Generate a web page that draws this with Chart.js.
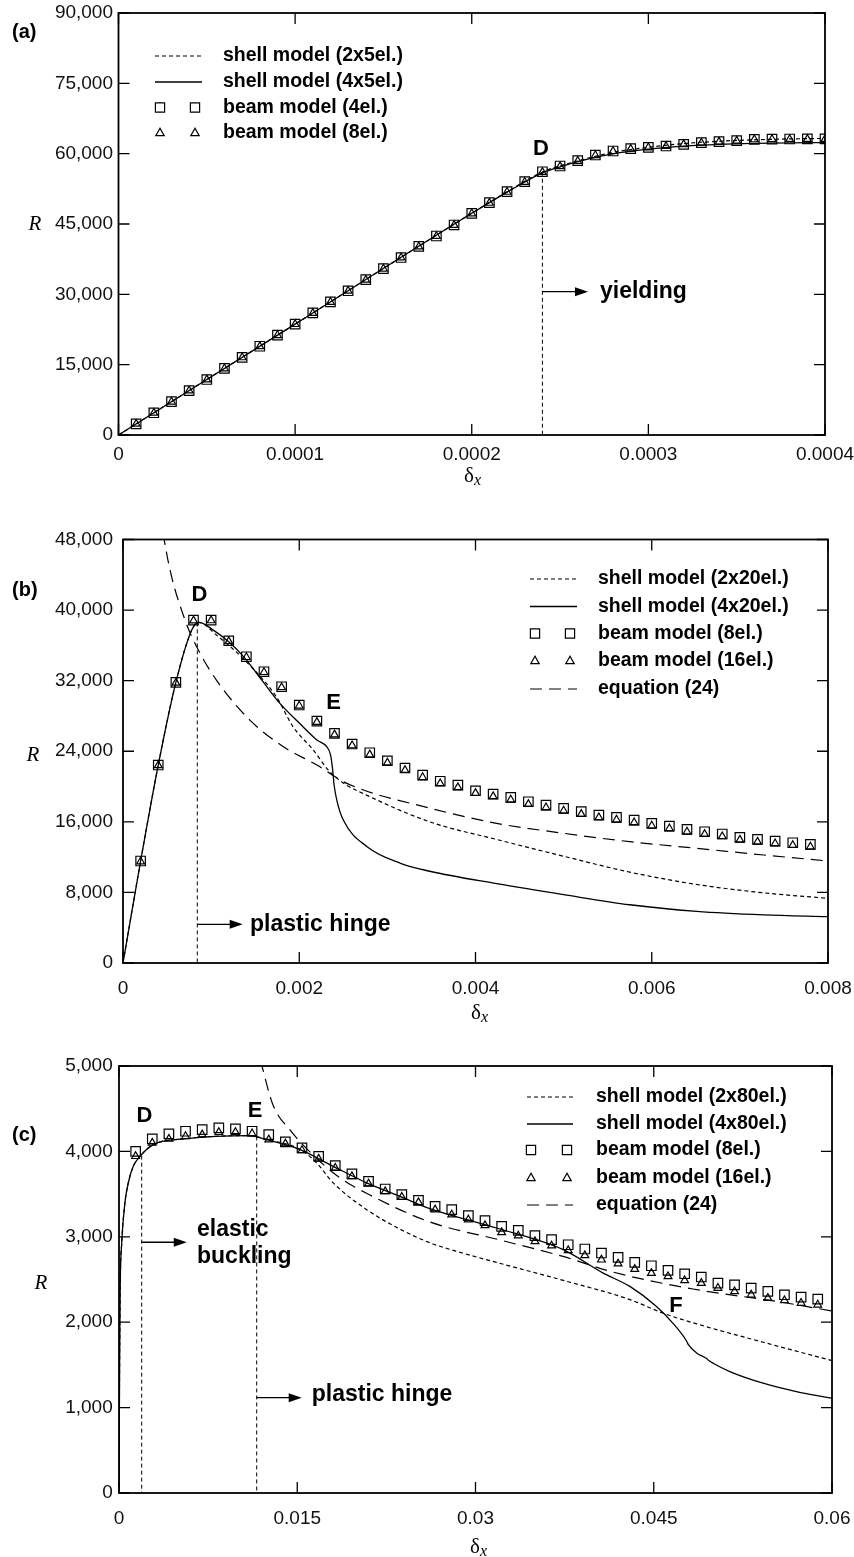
<!DOCTYPE html>
<html>
<head>
<meta charset="utf-8">
<script src="https://cdn.jsdelivr.net/npm/chart.js@4.4.1/dist/chart.umd.min.js"></script>
<style>
  html, body { margin: 0; padding: 0; background: #fff; }
  canvas { position: absolute; left: 0; }
</style>
</head>
<body>
<canvas id="chartA" width="854" height="500" style="top:0px"></canvas>
<canvas id="chartB" width="854" height="540" style="top:500px"></canvas>
<canvas id="chartC" width="854" height="517" style="top:1040px"></canvas>
<script>
// ---------- panel (a) data ----------
const xTicksA = [0, 0.0001, 0.0002, 0.0003, 0.0004];
const xLabelsA = ['0', '0.0001', '0.0002', '0.0003', '0.0004'];
const yTicksA = [0, 15000, 30000, 45000, 60000, 75000, 90000];

const deltaA_beam = [0.00001,0.00002,0.00003,0.00004,0.00005,0.00006,0.00007,0.00008,0.00009,0.0001,
  0.00011,0.00012,0.00013,0.00014,0.00015,0.00016,0.00017,0.00018,0.00019,0.0002,
  0.00021,0.00022,0.00023,0.00024,0.00025,0.00026,0.00027,0.00028,0.00029,0.0003,
  0.00031,0.00032,0.00033,0.00034,0.00035,0.00036,0.00037,0.00038,0.00039,0.0004];
const rA_beam4 = [2370,4740,7100,9470,11830,14200,16560,18930,21300,23660,
  26030,28390,30760,33120,35490,37850,40220,42440,44790,47280,
  49540,51890,54020,56150,57370,58500,59710,60570,61060,61350,
  61630,62000,62340,62550,62770,63060,63100,63130,63150,63150];
const rA_beam8 = [2360,4720,7080,9450,11800,14170,16530,18900,21260,23620,
  25990,28350,30720,33080,35450,37810,40180,42400,44750,47230,
  49480,51820,53950,56070,57300,58430,59650,60520,61010,61300,
  61590,61960,62300,62510,62730,63020,63060,63090,63110,63110];
const deltaA_s2 = [0,0.0001,0.0002,0.00022,0.00024,0.00026,0.00028,0.0003,0.00032,0.00034,0.00036,0.00038,0.0004];
const rA_s2 = [0,23650,47280,51850,56100,58450,60300,61350,62150,62650,62950,63150,63250];
const deltaA_s4 = [0,0.0001,0.0002,0.00022,0.00024,0.00025,0.00026,0.00028,0.0003,0.00032,0.00034,0.00036,0.00038,0.0004];
const rA_s4 = [0,23650,47280,51800,55900,57200,58300,59950,60950,61600,62000,62200,62300,62350];
const deltaA_yield = [0.00024, 0.00024];
const rA_yield = [56150, 0];

// ---------- panel (b) data ----------
const xTicksB = [0, 0.002, 0.004, 0.006, 0.008];
const xLabelsB = ['0', '0.002', '0.004', '0.006', '0.008'];
const yTicksB = [0, 8000, 16000, 24000, 32000, 40000, 48000];

const deltaB_beam = [0.0002,0.0004,0.0006,0.0008,0.001,0.0012,0.0014,0.0016,0.0018,0.002,
  0.0022,0.0024,0.0026,0.0028,0.003,0.0032,0.0034,0.0036,0.0038,0.004,
  0.0042,0.0044,0.0046,0.0048,0.005,0.0052,0.0054,0.0056,0.0058,0.006,
  0.0062,0.0064,0.0066,0.0068,0.007,0.0072,0.0074,0.0076,0.0078];
const rB_beam8 = [11560,22440,31810,38870,38870,36520,34710,33010,31310,29240,
  27420,26030,24820,23830,22920,22100,21300,20600,20170,19520,
  19150,18770,18280,17900,17530,17150,16770,16510,16200,15830,
  15520,15150,14880,14620,14240,14010,13820,13630,13450];
const rB_beam16 = [11500,22400,31750,38800,38820,36450,34650,32950,31230,29150,
  27300,25880,24650,23620,22700,21850,21050,20350,19900,19250,
  18880,18500,18000,17620,17250,16870,16490,16230,15920,15550,
  15240,14870,14600,14340,13960,13730,13540,13350,13170];
const deltaB_s2 = [0,0.0002,0.0004,0.0006,0.00078,0.00086,0.00106,0.0014,0.00174,0.00193,0.00216,0.00233,0.0025,0.00277,0.00348,0.00424,0.005,0.00575,0.00651,0.00727,0.008];
const rB_s2 = [0,11560,22440,31810,37740,38610,37170,34140,30170,26770,24130,21870,20400,19000,16000,14000,12100,10300,8900,7950,7330];
const deltaB_s4 = [0,0.0002,0.0004,0.0006,0.00078,0.00086,0.001025,0.0012,0.001385,0.00158,0.00178,0.002,0.0022,0.002311,0.002355,0.002378,0.002395,0.00243,0.0025,0.00277,0.00315,0.00348,0.00424,0.005,0.00575,0.00651,0.00727,0.008];
const rB_s4 = [0,11560,22440,31810,37740,38610,37730,36400,34530,32000,29430,27200,25280,24520,23600,22000,20200,18300,16200,13180,11300,10400,9000,7750,6600,5850,5450,5250];
const deltaB_eq = [0.00038,0.000534,0.000704,0.000836,0.00106,0.00144,0.00182,0.0022,0.00254,0.00348,0.00424,0.005,0.00575,0.00651,0.00727,0.008];
const rB_eq = [53000,44530,38870,35840,32070,27530,24510,22440,20360,17560,15830,14700,13750,13000,12240,11560];
const deltaB_hinge = [0.000843, 0.000843];
const rB_hinge = [38600, 0];

// ---------- panel (c) data ----------
const xTicksC = [0, 0.015, 0.03, 0.045, 0.06];
const xLabelsC = ['0', '0.015', '0.03', '0.045', '0.06'];
const yTicksC = [0, 1000, 2000, 3000, 4000, 5000];

const deltaC_beam = [0.0014,0.0028,0.0042,0.0056,0.007,0.0084,0.0098,0.0112,0.0126,0.014,
  0.0154,0.0168,0.0182,0.0196,0.021,0.0224,0.0238,0.0252,0.0266,0.028,
  0.0294,0.0308,0.0322,0.0336,0.035,0.0364,0.0378,0.0392,0.0406,0.042,
  0.0434,0.0448,0.0462,0.0476,0.049,0.0504,0.0518,0.0532,0.0546,0.056,
  0.0574,0.0588];
const rC_beam8 = [4001,4146,4205,4236,4256,4275,4264,4236,4197,4111,
  4041,3943,3834,3736,3650,3560,3494,3427,3357,3318,
  3247,3189,3122,3075,3013,2966,2907,2857,2810,2759,
  2700,2661,2606,2567,2529,2458,2438,2400,2360,2321,
  2294,2271];
const rC_beam16 = [3943,4100,4146,4177,4197,4224,4224,4209,4138,4091,
  4013,3912,3806,3708,3622,3532,3466,3403,3318,3259,
  3200,3134,3052,3013,2946,2896,2841,2782,2731,2685,
  2622,2575,2536,2489,2458,2400,2360,2321,2282,2254,
  2224,2204];
const deltaC_s2 = [0,0.00005,0.0001,0.00023,0.0005,0.00078,0.0012,0.00177,0.00289,0.0054,0.0082,0.011,0.0124,0.01523,0.01663,0.01803,0.02084,0.02364,0.02616,0.0289,0.03177,0.03738,0.04299,0.0458,0.04862,0.05422,0.06];
const rC_s2 = [0,1500,2400,2930,3400,3630,3825,3943,4080,4146,4177,4185,4140,4025,3865,3631,3318,3090,2930,2810,2700,2490,2265,2105,1980,1765,1550];
const deltaC_s4 = [0,0.00005,0.0001,0.00023,0.0005,0.00078,0.0012,0.00177,0.00289,0.0054,0.0082,0.011,0.0124,0.01523,0.01803,0.02084,0.02364,0.02616,0.03177,0.03738,0.04074,0.04299,0.04523,0.0466,0.04776,0.0479,0.0486,0.04944,0.0496,0.05,0.0514,0.0542,0.057,0.06];
const rC_s4 = [0,1500,2400,2930,3400,3630,3825,3943,4080,4146,4177,4185,4138,4021,3825,3631,3474,3330,3103,2849,2575,2419,2184,1990,1780,1740,1640,1575,1555,1520,1422,1286,1188,1110];
const deltaC_eq = [0.0115,0.01203,0.01296,0.01439,0.01633,0.0186,0.02112,0.02617,0.03206,0.03736,0.04148,0.0483,0.05562,0.06];
const rC_eq = [5280,5000,4543,4251,3958,3689,3489,3173,2963,2770,2590,2389,2237,2131];
const deltaC_buckle = [0.00191, 0.00191];
const rC_buckle = [3950, 0];
const deltaC_hinge = [0.011588, 0.011588];
const rC_hinge = [4175, 0];

// ---------- helpers ----------
const SANS = '"Liberation Sans", Arial, Helvetica, sans-serif';
const SERIF = '"Liberation Serif", "Times New Roman", serif';
Chart.defaults.font.family = SANS;
Chart.defaults.color = '#000';

const pts = (xs, ys) => xs.map((x, i) => ({ x: x, y: ys[i] }));
const fmt = v => String(v).replace(/\B(?=(\d{3})+(?!\d))/g, ',');

function lineSet(label, xs, ys, dash, width) {
  return { label: label, data: pts(xs, ys), borderColor: '#000', borderWidth: width,
    borderDash: dash, pointRadius: 0, fill: false, showLine: true, cubicInterpolationMode: 'monotone' };
}
function markSet(label, xs, ys, style, radius) {
  return { label: label, data: pts(xs, ys), showLine: false, pointStyle: style, pointRadius: radius,
    pointBorderWidth: 1.2, pointBorderColor: '#000', pointBackgroundColor: 'rgba(0,0,0,0)', borderColor: '#000' };
}
function guideSet(xs, ys) {
  return { label: '', data: pts(xs, ys), borderColor: '#000', borderWidth: 1, borderDash: [4, 3],
    pointRadius: 0, showLine: true, tension: 0 };
}

// frame with inward ticks on all four sides
const frameTicks = {
  id: 'frameTicks',
  afterDraw(chart) {
    const { ctx, chartArea: a } = chart;
    const sx = chart.scales.x, sy = chart.scales.y;
    const len = 11;
    ctx.save();
    ctx.strokeStyle = '#000';
    ctx.lineWidth = 1.3;
    ctx.beginPath();
    sx.ticks.forEach(t => {
      const px = sx.getPixelForValue(t.value);
      ctx.moveTo(px, a.bottom); ctx.lineTo(px, a.bottom - len);
      ctx.moveTo(px, a.top); ctx.lineTo(px, a.top + len);
    });
    sy.ticks.forEach(t => {
      const py = sy.getPixelForValue(t.value);
      ctx.moveTo(a.left, py); ctx.lineTo(a.left + len, py);
      ctx.moveTo(a.right, py); ctx.lineTo(a.right - len, py);
    });
    ctx.stroke();
    ctx.lineWidth = 1.8;
    ctx.strokeRect(a.left, a.top, a.right - a.left, a.bottom - a.top);
    ctx.restore();
  }
};

function drawMark(ctx, style, mx, my) {
  ctx.lineWidth = 1.2;
  ctx.beginPath();
  if (style === 'rect') {
    ctx.rect(mx - 4.6, my - 4.6, 9.2, 9.2);
  } else {
    ctx.moveTo(mx, my - 4.8);
    ctx.lineTo(mx - 4.2, my + 2.6);
    ctx.lineTo(mx + 4.2, my + 2.6);
    ctx.closePath();
  }
  ctx.stroke();
}

// labels, annotations and legend
const notesPlugin = {
  id: 'notes',
  afterDraw(chart, args, o) {
    const ctx = chart.ctx;
    const sx = chart.scales.x, sy = chart.scales.y;
    ctx.save();
    ctx.fillStyle = '#000';
    ctx.strokeStyle = '#000';
    ctx.textBaseline = 'middle';

    ctx.font = 'bold 20px ' + SANS;
    ctx.textAlign = 'left';
    ctx.fillText(o.tag.text, o.tag.x, o.tag.y);

    ctx.font = 'italic 21px ' + SERIF;
    ctx.textAlign = 'center';
    ctx.fillText('R', o.rPos.x, o.rPos.y);

    ctx.font = '21px ' + SERIF;
    ctx.textAlign = 'left';
    ctx.fillText('\u03b4', o.dPos.x - 10, o.dPos.y);
    const w = ctx.measureText('\u03b4').width;
    ctx.font = 'italic 16px ' + SERIF;
    ctx.fillText('x', o.dPos.x - 10 + w, o.dPos.y + 5);

    ctx.font = 'bold 22px ' + SANS;
    ctx.textAlign = 'center';
    o.letters.forEach(l => ctx.fillText(l.t, sx.getPixelForValue(l.x), sy.getPixelForValue(l.y)));

    ctx.lineWidth = 1.3;
    o.arrows.forEach(a => {
      const x0 = sx.getPixelForValue(a.x0), x1 = sx.getPixelForValue(a.x1), py = sy.getPixelForValue(a.y);
      ctx.beginPath(); ctx.moveTo(x0, py); ctx.lineTo(x1 - 10, py); ctx.stroke();
      ctx.beginPath(); ctx.moveTo(x1, py); ctx.lineTo(x1 - 13, py - 4.5); ctx.lineTo(x1 - 13, py + 4.5);
      ctx.closePath(); ctx.fill();
    });

    ctx.font = 'bold 23px ' + SANS;
    ctx.textAlign = 'left';
    o.words.forEach(t => ctx.fillText(t.t, sx.getPixelForValue(t.x), sy.getPixelForValue(t.y)));

    const lg = o.legend;
    const sets = chart.data.datasets.filter(d => d.label);
    sets.forEach((d, i) => {
      const ry = lg.rows[i];
      if (d.showLine === false) {
        drawMark(ctx, d.pointStyle, lg.m1, ry);
        drawMark(ctx, d.pointStyle, lg.m2, ry);
      } else {
        ctx.setLineDash(d.borderDash || []);
        ctx.lineWidth = d.borderWidth;
        ctx.beginPath(); ctx.moveTo(lg.x0, ry); ctx.lineTo(lg.x1, ry); ctx.stroke();
        ctx.setLineDash([]);
      }
      ctx.font = 'bold 19.5px ' + SANS;
      ctx.textAlign = 'left';
      ctx.fillText(d.label, lg.tx, ry);
    });
    ctx.restore();
  }
};

function makeChart(id, datasets, box, xAx, yAx, notes) {
  const cv = document.getElementById(id);
  return new Chart(cv, {
    type: 'line',
    data: { datasets: datasets },
    options: {
      responsive: false,
      animation: false,
      devicePixelRatio: 1,
      events: [],
      layout: { padding: { left: 0, top: box.top, right: cv.width - box.right, bottom: 0 } },
      plugins: { legend: { display: false }, tooltip: { enabled: false }, notes: notes },
      scales: {
        x: {
          type: 'linear', min: xAx.ticks[0], max: xAx.ticks[xAx.ticks.length - 1],
          grid: { display: false, drawTicks: false }, border: { display: false },
          ticks: { autoSkip: false, maxRotation: 0, padding: xAx.pad, font: { size: 19 }, color: '#111',
            callback: (v, i) => xAx.labels[i] },
          afterBuildTicks: s => { s.ticks = xAx.ticks.map(v => ({ value: v })); },
          afterFit: s => { s.height = cv.height - box.bottom; s.paddingLeft = 0; s.paddingRight = 0; }
        },
        y: {
          type: 'linear', min: yAx.ticks[0], max: yAx.ticks[yAx.ticks.length - 1],
          grid: { display: false, drawTicks: false }, border: { display: false },
          ticks: { autoSkip: false, padding: yAx.pad, font: { size: 19 }, color: '#111',
            callback: v => fmt(v) },
          afterBuildTicks: s => { s.ticks = yAx.ticks.map(v => ({ value: v })); },
          afterFit: s => { s.width = box.left; s.paddingTop = 0; s.paddingBottom = 0; }
        }
      }
    },
    plugins: [frameTicks, notesPlugin]
  });
}

// ---------- panel (a) ----------
makeChart('chartA', [
  lineSet('shell model (2x5el.)', deltaA_s2, rA_s2, [4, 3], 1.2),
  lineSet('shell model (4x5el.)', deltaA_s4, rA_s4, [], 1.3),
  markSet('beam model (4el.)', deltaA_beam, rA_beam4, 'rect', 6.7),
  markSet('beam model (8el.)', deltaA_beam, rA_beam8, 'triangle', 4.5),
  guideSet(deltaA_yield, rA_yield)
], { left: 118.5, right: 825, top: 13, bottom: 435 },
{ ticks: xTicksA, labels: xLabelsA, pad: 8.6 }, { ticks: yTicksA, pad: 5.5 },
{
  tag: { text: '(a)', x: 12, y: 32 }, rPos: { x: 35, y: 224 }, dPos: { x: 474, y: 476 },
  letters: [{ t: 'D', x: 0.0002392, y: 61000 }],
  arrows: [{ x0: 0.00024, x1: 0.0002658, y: 30560 }],
  words: [{ t: 'yielding', x: 0.0002726, y: 30560 }],
  legend: { x0: 155, x1: 202, m1: 160, m2: 195, tx: 223, rows: [56, 82, 107.5, 133] }
});

// ---------- panel (b) ----------
makeChart('chartB', [
  lineSet('shell model (2x20el.)', deltaB_s2, rB_s2, [4, 3], 1.2),
  lineSet('shell model (4x20el.)', deltaB_s4, rB_s4, [], 1.3),
  markSet('beam model (8el.)', deltaB_beam, rB_beam8, 'rect', 6.7),
  markSet('beam model (16el.)', deltaB_beam, rB_beam16, 'triangle', 4.5),
  lineSet('equation (24)', deltaB_eq, rB_eq, [12, 7], 1.2),
  guideSet(deltaB_hinge, rB_hinge)
], { left: 123, right: 828, top: 39.5, bottom: 463 },
{ ticks: xTicksB, labels: xLabelsB, pad: 14 }, { ticks: yTicksB, pad: 10 },
{
  tag: { text: '(b)', x: 12, y: 90 }, rPos: { x: 33, y: 255 }, dPos: { x: 481, y: 513 },
  letters: [{ t: 'D', x: 0.000868, y: 41710 }, { t: 'E', x: 0.002389, y: 29470 }],
  arrows: [{ x0: 0.000843, x1: 0.001358, y: 4386 }],
  words: [{ t: 'plastic hinge', x: 0.001441, y: 4386 }],
  legend: { x0: 530, x1: 577, m1: 535, m2: 570, tx: 598, rows: [79, 106.5, 133.5, 161, 189] }
});

// ---------- panel (c) ----------
makeChart('chartC', [
  lineSet('shell model (2x80el.)', deltaC_s2, rC_s2, [4, 3], 1.2),
  lineSet('shell model (4x80el.)', deltaC_s4, rC_s4, [], 1.3),
  markSet('beam model (8el.)', deltaC_beam, rC_beam8, 'rect', 6.7),
  markSet('beam model (16el.)', deltaC_beam, rC_beam16, 'triangle', 4.5),
  lineSet('equation (24)', deltaC_eq, rC_eq, [12, 7], 1.2),
  guideSet(deltaC_buckle, rC_buckle),
  guideSet(deltaC_hinge, rC_hinge)
], { left: 119, right: 832, top: 26, bottom: 453 },
{ ticks: xTicksC, labels: xLabelsC, pad: 14 }, { ticks: yTicksC, pad: 6.3 },
{
  tag: { text: '(c)', x: 12, y: 95 }, rPos: { x: 41, y: 243 }, dPos: { x: 480, y: 507 },
  letters: [{ t: 'D', x: 0.002146, y: 4415 }, { t: 'E', x: 0.011445, y: 4473 }, { t: 'F', x: 0.046873, y: 2190 }],
  arrows: [{ x0: 0.00191, x1: 0.0057, y: 2936 }, { x0: 0.011588, x1: 0.015375, y: 1116 }],
  words: [{ t: 'elastic', x: 0.006564, y: 3080 }, { t: 'buckling', x: 0.006564, y: 2767 },
    { t: 'plastic hinge', x: 0.016216, y: 1148 }],
  legend: { x0: 527, x1: 573, m1: 531, m2: 567, tx: 596, rows: [57, 84, 110, 138, 165] }
});
</script>
</body>
</html>
